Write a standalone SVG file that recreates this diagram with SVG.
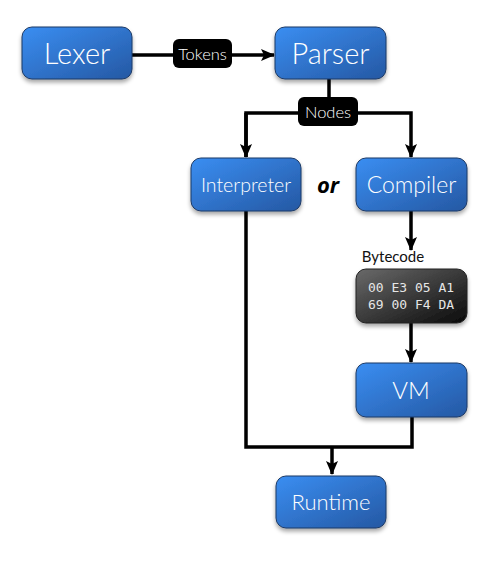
<svg xmlns="http://www.w3.org/2000/svg" width="499" height="561" viewBox="0 0 499 561">
<defs>
<linearGradient id="blue" x1="0" y1="0" x2="1" y2="1">
<stop offset="0" stop-color="#3a8ef2"/>
<stop offset="1" stop-color="#2558a3"/>
</linearGradient>
<linearGradient id="dark" x1="0" y1="0" x2="1" y2="1">
<stop offset="0" stop-color="#6a6a6a"/>
<stop offset="1" stop-color="#0a0a0a"/>
</linearGradient>
<filter id="sh" x="-10%" y="-10%" width="130%" height="140%">
<feGaussianBlur in="SourceAlpha" stdDeviation="2"/>
<feOffset dx="0" dy="3" result="b"/>
<feComponentTransfer><feFuncA type="linear" slope="0.35"/></feComponentTransfer>
<feMerge><feMergeNode/><feMergeNode in="SourceGraphic"/></feMerge>
</filter>
<marker id="arr" markerWidth="14" markerHeight="14" viewBox="0 0 14 14" refX="13" refY="7" orient="auto" markerUnits="userSpaceOnUse">
<path d="M0,1 L14,7 L0,13 L3,7 z" fill="#000"/>
</marker>
</defs>
<style>
.box{fill:url(#blue);stroke:#1d3a66;stroke-width:1;filter:url(#sh)}
.lbl{fill:#fff;font-family:Lato,"Open Sans",sans-serif;font-weight:300;text-anchor:middle}
.tag{fill:#000}
.tagt{fill:#fff;font-family:Lato,"Open Sans",sans-serif;font-weight:300;font-size:16.5px;text-anchor:middle}
.ln{fill:none;stroke:#000;stroke-width:3.5}
.hex{font-family:"DejaVu Sans Mono",monospace;font-size:13px;text-anchor:middle;fill:#e6e6e6}
</style>
<g id="connectors">
<path class="ln" d="M132,55 L274,55" marker-end="url(#arr)"/>
<path class="ln" d="M329,79 L329,113"/>
<path class="ln" d="M246,157 L246,113 L411,113 L411,157" marker-end="url(#arr)"/>
<path class="ln" d="M246,113 L246,157" marker-end="url(#arr)"/>
<path class="ln" d="M411,211 L411,250" marker-end="url(#arr)"/>
<path class="ln" d="M411,323 L411,362" marker-end="url(#arr)"/>
<path class="ln" d="M246,211 L246,447 L412,447 L412,417"/>
<path class="ln" d="M332,447 L332,474" marker-end="url(#arr)"/>
<g id="tokens-label">
<rect class="tag" x="173" y="39" width="59" height="29" rx="6"/>
<text class="tagt" x="202.5" y="59.5">Tokens</text>
</g>
<g id="nodes-label">
<rect class="tag" x="298" y="97" width="60" height="29" rx="6"/>
<text class="tagt" x="328" y="117.5">Nodes</text>
</g>
</g>
<g id="lexer">
<rect class="box" x="22" y="27" width="110" height="52" rx="10"/>
<text class="lbl" x="77" y="64" font-size="29">Lexer</text>
</g>
<g id="parser">
<rect class="box" x="275" y="27" width="111" height="52" rx="10"/>
<text class="lbl" x="330.5" y="64" font-size="29">Parser</text>
</g>
<g id="interpreter">
<rect class="box" x="191" y="158" width="110" height="53" rx="10"/>
<text class="lbl" x="246" y="192" font-size="19.5">Interpreter</text>
</g>
<text id="or" x="328" y="193" font-family="'Open Sans',Lato,sans-serif" font-weight="700" font-style="italic" font-size="22" text-anchor="middle" fill="#000">or</text>
<g id="compiler">
<rect class="box" x="356" y="158" width="111" height="53" rx="10"/>
<text class="lbl" x="411.5" y="193" font-size="23">Compiler</text>
</g>
<g id="bytecode">
<text x="393" y="262" font-family="Lato,'Open Sans',sans-serif" font-weight="400" font-size="15" text-anchor="middle" fill="#111">Bytecode</text>
<rect x="356" y="269" width="111" height="54" rx="10" fill="url(#dark)" stroke="#222" stroke-width="1" filter="url(#sh)"/>
<text class="hex" x="411" y="292">00 E3 05 A1</text>
<text class="hex" x="411" y="309">69 00 F4 DA</text>
</g>
<g id="vm">
<rect class="box" x="356" y="363" width="111" height="54" rx="10"/>
<text class="lbl" x="411" y="399" font-size="24">VM</text>
</g>
<g id="runtime">
<rect class="box" x="276" y="476" width="110" height="52" rx="10"/>
<text class="lbl" x="331" y="510" font-size="22">Runtime</text>
</g>
</svg>
